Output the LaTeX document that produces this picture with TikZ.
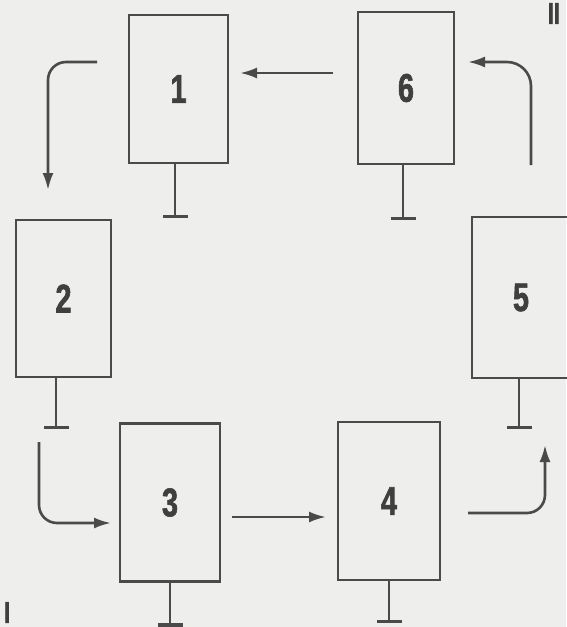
\documentclass[tikz,border=0pt]{standalone}
\usepackage{fontspec}
\newfontfamily\numfont[FakeStretch=0.72,FakeBold=1.5]{Liberation Sans Bold}
\usetikzlibrary{arrows.meta}
\definecolor{ink}{HTML}{4A4A4A}
\definecolor{paper}{HTML}{EEEEEC}
\tikzset{
  unit/.style={draw=ink, line width=2.6pt, rectangle, inner sep=0pt,
    font=\numfont\fontsize{40}{40}\selectfont, text=ink!85!black},
  flow/.style={draw=ink, line width=2.6pt, -{Latex[length=17pt,width=11pt]}},
  curved/.style={flow, rounded corners=18pt},
  stem/.style={draw=ink, line width=2.6pt, -{Bar[width=25pt,line width=3.5pt]}},
  tag/.style={font=\numfont\fontsize{30}{30}\selectfont, text=ink!85!black, inner sep=1pt}
}
\begin{document}
\begin{tikzpicture}[x=1pt,y=-1pt]
  \fill[paper] (0,0) rectangle (566,627);
  \useasboundingbox (0,0) rectangle (566,627);

  % the six units
  \node[unit, minimum width=99pt, minimum height=148pt] (b1) at (178.5,89) {1};
  \node[unit, minimum width=96pt, minimum height=152pt] (b6) at (406,88) {6};
  \node[unit, minimum width=95pt, minimum height=157pt] (b2) at (63.5,298.5) {2};
  \node[unit, minimum width=98pt, minimum height=161pt] (b5) at (521,297.5) {5};
  \node[unit, minimum width=100pt, minimum height=158pt] (b3) at (170,502.5) {3};
  \node[unit, minimum width=102pt, minimum height=158pt] (b4) at (389,501) {4};

  % grounding stems under each unit
  \draw[stem] (b1.south -| 175,0) -- ++(0,54);
  \draw[stem] (b6.south -| 403,0) -- ++(0,55);
  \draw[stem] (b2.south -| 56,0) -- ++(0,51);
  \draw[stem] (b5.south -| 519,0) -- ++(0,50);
  \draw[stem] (b3.south -| 170,0) -- ++(0,44);
  \draw[stem] (b4.south -| 389,0) -- ++(0,42);

  % free ends of the connectors
  \coordinate (s61) at (333,73);
  \coordinate (t61) at (240,73);
  \coordinate (s12) at (97,62);
  \coordinate (t12) at (48,190);
  \coordinate (s23) at (39,442);
  \coordinate (t23) at (111,523);
  \coordinate (s34) at (232,517);
  \coordinate (t34) at (326,517);
  \coordinate (s45) at (468,513);
  \coordinate (t45) at (545,445);
  \coordinate (s56) at (531,165);
  \coordinate (t56) at (468,62);

  % circulation between the units
  \draw[flow] (s61) -- (t61);
  \draw[curved] (s12) -| (t12);
  \draw[curved] (s23) |- (t23);
  \draw[flow] (s34) -- (t34);
  \draw[curved] (s45) -| (t45);
  \draw[curved, rounded corners=24pt] (s56) |- (t56);

  % group labels
  \node[tag, anchor=north east] (lII) at (561,2) {II};
  \node[tag, anchor=south west] (lI) at (3,624) {I};
\end{tikzpicture}
\end{document}
